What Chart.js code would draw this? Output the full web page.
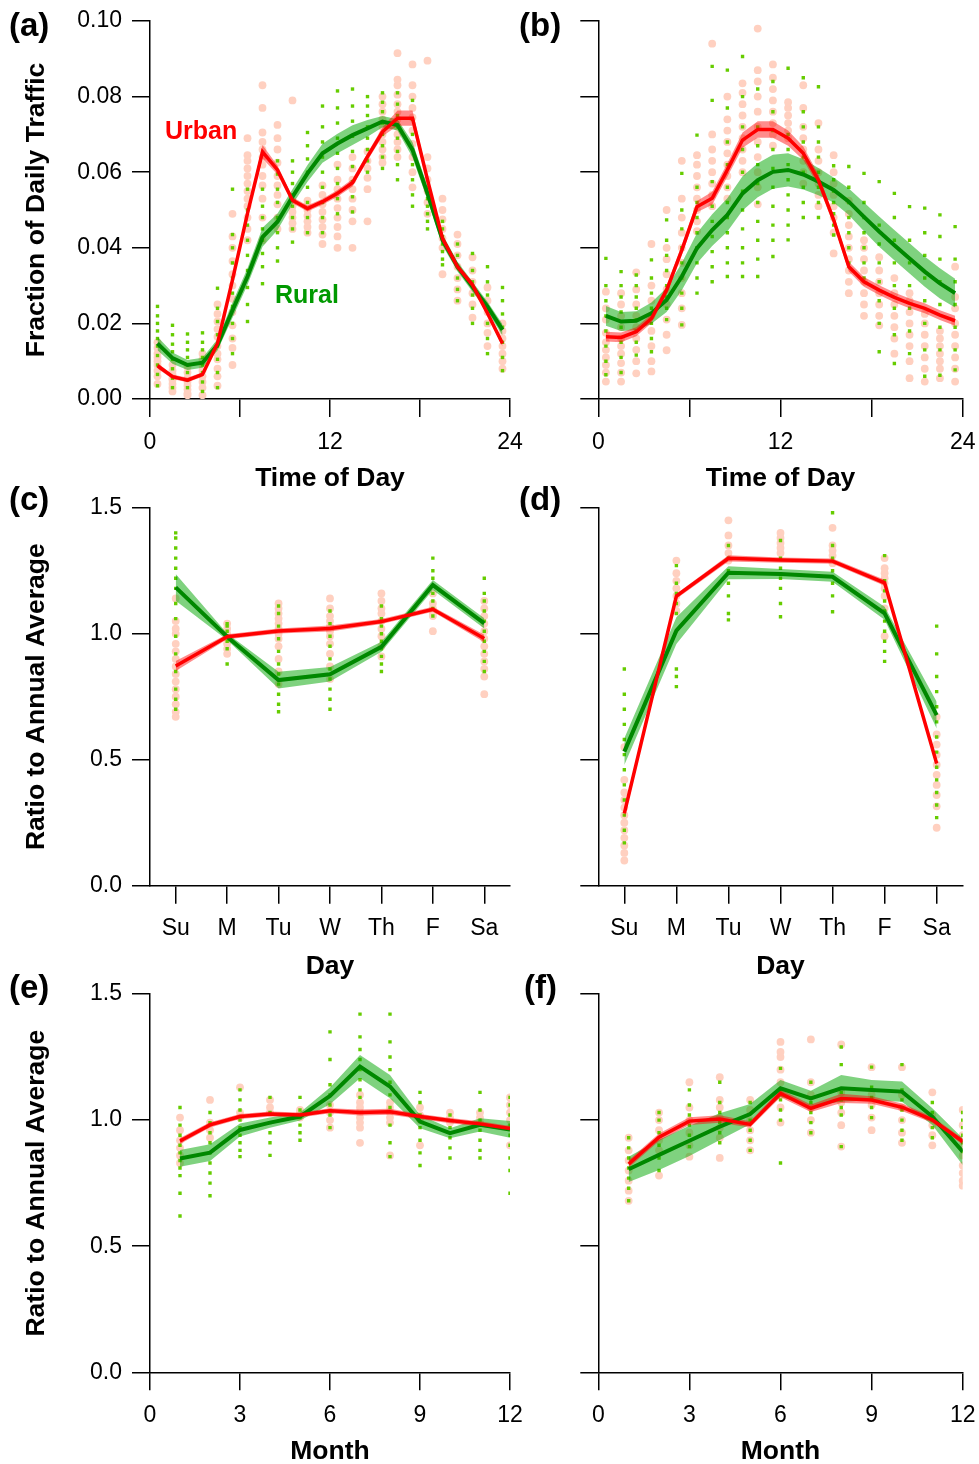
<!DOCTYPE html>
<html>
<head>
<meta charset="utf-8">
<script src="https://cdn.jsdelivr.net/npm/chart.js@4/dist/chart.umd.min.js"></script>
<style>
  body { margin: 0; background: #fff; width: 979px; height: 1464px; position: relative; overflow: hidden;
         font-family: "Liberation Sans", Arial, sans-serif; }
  canvas { position: absolute; }
  .tag { position: absolute; font-weight: bold; font-size: 33px; line-height: 33px; color: #000; }
</style>
</head>
<body>
<canvas id="cA" width="545" height="495" style="left:0;top:0"></canvas>
<canvas id="cB" width="465" height="495" style="left:530px;top:0"></canvas>
<canvas id="cC" width="545" height="505" style="left:0;top:480px"></canvas>
<canvas id="cD" width="465" height="505" style="left:530px;top:480px"></canvas>
<canvas id="cE" width="545" height="505" style="left:0;top:965px"></canvas>
<canvas id="cF" width="465" height="505" style="left:530px;top:965px"></canvas>
<div class="tag" style="left:9px;top:8px">(a)</div>
<div class="tag" style="left:519px;top:8px">(b)</div>
<div class="tag" style="left:9px;top:482px">(c)</div>
<div class="tag" style="left:519px;top:482px">(d)</div>
<div class="tag" style="left:9px;top:970px">(e)</div>
<div class="tag" style="left:524px;top:970px">(f)</div>
<script>
// x positions
const hours = [0.5, 1.5, 2.5, 3.5, 4.5, 5.5, 6.5, 7.5, 8.5, 9.5, 10.5, 11.5,
               12.5, 13.5, 14.5, 15.5, 16.5, 17.5, 18.5, 19.5, 20.5, 21.5, 22.5, 23.5];
const days = [0, 1, 2, 3, 4, 5, 6];
const dayNames = ["Su", "M", "Tu", "W", "Th", "F", "Sa"];
const months = [1, 2, 3, 4, 5, 6, 7, 8, 9, 10, 11, 12];

// (a) hourly profile
const urbanA = [0.0088, 0.0059, 0.0050, 0.0065, 0.0147, 0.0315, 0.0491, 0.0654, 0.0606, 0.0526, 0.0504, 0.0522,
                0.0544, 0.0572, 0.0641, 0.0707, 0.0743, 0.0743, 0.0580, 0.0425, 0.0350, 0.0302, 0.0227, 0.0147];
const urbanAErr = [0.0007, 0.0006, 0.0006, 0.0006, 0.0007, 0.0008, 0.0009, 0.0018, 0.0012, 0.0008, 0.0008, 0.0008,
                   0.0009, 0.0010, 0.0010, 0.0012, 0.0020, 0.0020, 0.0010, 0.0008, 0.0007, 0.0007, 0.0007, 0.0008];
const ruralA = [0.0147, 0.0108, 0.0090, 0.0096, 0.0143, 0.0235, 0.0324, 0.0428, 0.0469, 0.0535, 0.0597, 0.0650,
                0.0676, 0.0698, 0.0716, 0.0734, 0.0725, 0.0659, 0.0544, 0.0421, 0.0350, 0.0297, 0.0244, 0.0183];
const ruralAErr = [0.0018, 0.0015, 0.0013, 0.0013, 0.0015, 0.0020, 0.0022, 0.0025, 0.0022, 0.0020, 0.0022, 0.0025,
                   0.0026, 0.0026, 0.0022, 0.0015, 0.0015, 0.0020, 0.0018, 0.0015, 0.0013, 0.0013, 0.0013, 0.0015];
const urbanAPts = [
  [0.004, 0.006, 0.0075, 0.009, 0.010, 0.011, 0.012, 0.0135, 0.015],
  [0.002, 0.003, 0.004, 0.005, 0.0055, 0.0065, 0.0075, 0.009],
  [0.001, 0.0015, 0.0025, 0.0035, 0.0045, 0.0055, 0.007, 0.0085],
  [0.001, 0.003, 0.0045, 0.006, 0.0075, 0.009, 0.0105, 0.012],
  [0.0035, 0.006, 0.008, 0.0105, 0.012, 0.014, 0.0165, 0.0185, 0.0205, 0.0225, 0.025],
  [0.009, 0.0135, 0.016, 0.0195, 0.023, 0.0265, 0.030, 0.033, 0.0365, 0.040, 0.043, 0.049],
  [0.042, 0.045, 0.048, 0.051, 0.053, 0.055, 0.057, 0.059, 0.061, 0.063, 0.0645, 0.069],
  [0.042, 0.048, 0.053, 0.0565, 0.059, 0.062, 0.064, 0.066, 0.068, 0.0705, 0.077, 0.083],
  [0.045, 0.048, 0.0515, 0.054, 0.0565, 0.059, 0.0625, 0.066, 0.069, 0.0725],
  [0.045, 0.0465, 0.048, 0.0495, 0.051, 0.0525, 0.079],
  [0.044, 0.0455, 0.047, 0.0485, 0.050, 0.0515, 0.0525],
  [0.041, 0.0435, 0.0455, 0.0475, 0.0495, 0.0515, 0.054, 0.0565],
  [0.040, 0.043, 0.0455, 0.048, 0.0505, 0.053, 0.0555, 0.058, 0.062],
  [0.040, 0.047, 0.050, 0.053, 0.0555, 0.058, 0.061, 0.064],
  [0.047, 0.0555, 0.0585, 0.061, 0.063, 0.0655],
  [0.0625, 0.064, 0.066, 0.068, 0.070, 0.072, 0.074, 0.076, 0.078, 0.080],
  [0.064, 0.066, 0.068, 0.070, 0.072, 0.074, 0.076, 0.078, 0.0805, 0.083, 0.0845, 0.0915],
  [0.056, 0.060, 0.064, 0.0675, 0.071, 0.0745, 0.077, 0.080, 0.083, 0.0885],
  [0.049, 0.052, 0.055, 0.058, 0.061, 0.064, 0.0895],
  [0.033, 0.040, 0.0425, 0.045, 0.0475, 0.050, 0.053],
  [0.026, 0.029, 0.032, 0.035, 0.038, 0.041, 0.0435],
  [0.0215, 0.025, 0.028, 0.031, 0.034, 0.0375],
  [0.014, 0.0175, 0.020, 0.023, 0.026, 0.0295],
  [0.008, 0.010, 0.012, 0.014, 0.016, 0.018, 0.020]
];
const ruralAPts = [
  [0.0035, 0.0065, 0.009, 0.0115, 0.014, 0.016, 0.018, 0.020, 0.022, 0.0245],
  [0.003, 0.0055, 0.008, 0.0105, 0.0125, 0.0145, 0.017, 0.0195],
  [0.003, 0.005, 0.007, 0.009, 0.011, 0.013, 0.015, 0.0172],
  [0.002, 0.0045, 0.007, 0.009, 0.011, 0.013, 0.015, 0.0175],
  [0.003, 0.007, 0.0105, 0.014, 0.017, 0.0205, 0.024, 0.0293],
  [0.012, 0.016, 0.020, 0.0245, 0.028, 0.032, 0.036, 0.040, 0.0435, 0.0555],
  [0.0205, 0.025, 0.0295, 0.034, 0.038, 0.042, 0.046, 0.050, 0.0555],
  [0.0305, 0.035, 0.0385, 0.042, 0.045, 0.048, 0.051, 0.0555],
  [0.0365, 0.040, 0.044, 0.048, 0.052, 0.0555, 0.0595, 0.063],
  [0.0415, 0.045, 0.048, 0.051, 0.054, 0.057, 0.060, 0.063],
  [0.044, 0.048, 0.052, 0.056, 0.060, 0.0635, 0.067, 0.0705],
  [0.044, 0.048, 0.052, 0.056, 0.060, 0.064, 0.068, 0.072, 0.0775],
  [0.049, 0.053, 0.057, 0.061, 0.065, 0.069, 0.073, 0.077, 0.0815],
  [0.0495, 0.0535, 0.0575, 0.0615, 0.0655, 0.0695, 0.0735, 0.0775, 0.082],
  [0.060, 0.063, 0.066, 0.069, 0.072, 0.075, 0.0775, 0.080],
  [0.061, 0.064, 0.067, 0.070, 0.073, 0.076, 0.0785, 0.081],
  [0.058, 0.062, 0.0655, 0.069, 0.072, 0.075, 0.078, 0.081],
  [0.051, 0.054, 0.058, 0.062, 0.066, 0.070, 0.074, 0.079],
  [0.045, 0.047, 0.049, 0.051, 0.053, 0.056],
  [0.0355, 0.037, 0.039, 0.041, 0.043, 0.045, 0.047],
  [0.026, 0.029, 0.032, 0.035, 0.038, 0.041],
  [0.020, 0.024, 0.0275, 0.031, 0.034, 0.0385],
  [0.012, 0.016, 0.020, 0.024, 0.0275, 0.031, 0.035],
  [0.0075, 0.011, 0.015, 0.019, 0.0225, 0.026, 0.0295]
];

// (b) hourly profile
const urbanB = [0.0165, 0.0163, 0.0178, 0.0213, 0.0288, 0.0394, 0.0509, 0.0531, 0.0606, 0.0685, 0.0713, 0.0713,
                0.0690, 0.0650, 0.0579, 0.0474, 0.0350, 0.0310, 0.0288, 0.0269, 0.0253, 0.0240, 0.0222, 0.0207];
const urbanBErr = [0.0013, 0.0013, 0.0012, 0.0012, 0.0012, 0.0013, 0.0015, 0.0017, 0.0018, 0.0020, 0.0022, 0.0022,
                   0.0020, 0.0018, 0.0015, 0.0013, 0.0013, 0.0013, 0.0013, 0.0013, 0.0013, 0.0013, 0.0013, 0.0013];
const ruralB = [0.0220, 0.0205, 0.0207, 0.0227, 0.0262, 0.0324, 0.0399, 0.0447, 0.0487, 0.0544, 0.0579, 0.0601,
                0.0606, 0.0594, 0.0575, 0.0553, 0.0522, 0.0482, 0.0443, 0.0407, 0.0372, 0.0337, 0.0306, 0.0280];
const ruralBErr = [0.0026, 0.0025, 0.0025, 0.0028, 0.0032, 0.0036, 0.0040, 0.0042, 0.0044, 0.0045, 0.0045, 0.0045,
                   0.0044, 0.0040, 0.0036, 0.0033, 0.0035, 0.0038, 0.0040, 0.0040, 0.0040, 0.0040, 0.0040, 0.0038];
const urbanBPts = [
  [0.0046, 0.007, 0.009, 0.011, 0.013, 0.015, 0.0175, 0.021, 0.024, 0.0284],
  [0.0046, 0.007, 0.0095, 0.012, 0.014, 0.016, 0.019, 0.022, 0.025, 0.028],
  [0.0068, 0.010, 0.013, 0.016, 0.019, 0.022, 0.025, 0.029, 0.0335],
  [0.0073, 0.010, 0.014, 0.018, 0.022, 0.026, 0.030, 0.041],
  [0.0129, 0.017, 0.021, 0.025, 0.029, 0.033, 0.037, 0.040, 0.050],
  [0.0196, 0.024, 0.028, 0.032, 0.036, 0.040, 0.044, 0.048, 0.053, 0.063],
  [0.0444, 0.047, 0.050, 0.053, 0.056, 0.059, 0.062, 0.0645],
  [0.051, 0.054, 0.057, 0.060, 0.063, 0.066, 0.070, 0.094],
  [0.053, 0.056, 0.059, 0.062, 0.065, 0.068, 0.071, 0.074, 0.080],
  [0.060, 0.063, 0.066, 0.069, 0.072, 0.075, 0.078, 0.081, 0.0835],
  [0.0515, 0.056, 0.060, 0.064, 0.068, 0.072, 0.076, 0.080, 0.084, 0.087, 0.098],
  [0.067, 0.070, 0.073, 0.076, 0.079, 0.082, 0.085, 0.0885],
  [0.069, 0.071, 0.073, 0.075, 0.077, 0.0785],
  [0.057, 0.060, 0.063, 0.066, 0.069, 0.072, 0.077, 0.083],
  [0.051, 0.054, 0.057, 0.060, 0.063, 0.066, 0.073],
  [0.0385, 0.044, 0.048, 0.051, 0.054, 0.057, 0.060, 0.0645],
  [0.028, 0.031, 0.034, 0.037, 0.040, 0.043, 0.046, 0.049, 0.0525],
  [0.022, 0.025, 0.028, 0.031, 0.034, 0.037, 0.040, 0.042],
  [0.0195, 0.022, 0.025, 0.028, 0.031, 0.034, 0.0375],
  [0.012, 0.016, 0.019, 0.022, 0.025, 0.028, 0.032],
  [0.0055, 0.010, 0.014, 0.017, 0.020, 0.023, 0.026, 0.028],
  [0.0046, 0.008, 0.011, 0.014, 0.017, 0.020, 0.0225],
  [0.0055, 0.008, 0.010, 0.012, 0.014, 0.016, 0.018],
  [0.0046, 0.008, 0.011, 0.014, 0.017, 0.020, 0.024, 0.027, 0.035]
];
const ruralBPts = [
  [0.0064, 0.010, 0.014, 0.018, 0.022, 0.026, 0.030, 0.0372],
  [0.007, 0.011, 0.015, 0.019, 0.023, 0.027, 0.030, 0.0337],
  [0.0116, 0.015, 0.018, 0.021, 0.024, 0.027, 0.030, 0.0328],
  [0.0125, 0.016, 0.020, 0.024, 0.028, 0.032, 0.0368],
  [0.021, 0.024, 0.027, 0.030, 0.034, 0.038, 0.042, 0.0474],
  [0.0196, 0.024, 0.028, 0.032, 0.036, 0.040, 0.045, 0.050, 0.0597],
  [0.028, 0.032, 0.036, 0.040, 0.044, 0.048, 0.052, 0.056, 0.0698],
  [0.031, 0.035, 0.039, 0.043, 0.047, 0.051, 0.0575, 0.079, 0.088],
  [0.0324, 0.036, 0.040, 0.044, 0.048, 0.052, 0.056, 0.062, 0.068, 0.077, 0.087],
  [0.0324, 0.036, 0.040, 0.045, 0.050, 0.055, 0.060, 0.066, 0.072, 0.080, 0.0906],
  [0.0324, 0.037, 0.042, 0.047, 0.052, 0.057, 0.062, 0.067, 0.072, 0.082],
  [0.0377, 0.042, 0.046, 0.051, 0.056, 0.061, 0.066, 0.071, 0.076, 0.084],
  [0.0421, 0.046, 0.050, 0.054, 0.058, 0.062, 0.066, 0.070, 0.0875],
  [0.048, 0.052, 0.056, 0.060, 0.064, 0.068, 0.072, 0.076, 0.085],
  [0.048, 0.052, 0.056, 0.060, 0.064, 0.068, 0.072, 0.0826],
  [0.0434, 0.046, 0.049, 0.052, 0.055, 0.058, 0.0617],
  [0.036, 0.040, 0.044, 0.048, 0.052, 0.056, 0.0615],
  [0.032, 0.036, 0.040, 0.044, 0.048, 0.052, 0.0597],
  [0.0125, 0.020, 0.026, 0.031, 0.036, 0.041, 0.046, 0.0575],
  [0.0094, 0.017, 0.024, 0.030, 0.036, 0.042, 0.048, 0.0544],
  [0.012, 0.018, 0.024, 0.030, 0.036, 0.042, 0.0509],
  [0.006, 0.013, 0.020, 0.026, 0.032, 0.038, 0.044, 0.0505],
  [0.0063, 0.013, 0.019, 0.025, 0.031, 0.037, 0.043, 0.0487],
  [0.0077, 0.013, 0.019, 0.025, 0.031, 0.037, 0.0456]
];

// (c) day of week
const urbanC = [0.872, 0.988, 1.011, 1.021, 1.048, 1.097, 0.981];
const urbanCErr = [0.02, 0.01, 0.01, 0.012, 0.01, 0.01, 0.015];
const ruralC = [1.184, 0.988, 0.816, 0.839, 0.948, 1.193, 1.041];
const ruralCErr = [0.053, 0.013, 0.033, 0.029, 0.02, 0.02, 0.02];
const urbanCPts = [
  [0.67, 0.69, 0.72, 0.75, 0.78, 0.81, 0.84, 0.87, 0.90, 0.93, 0.96, 1.00, 1.02, 1.05, 1.14],
  [0.92, 0.94, 0.96, 0.98, 1.00, 1.02, 1.04],
  [0.80, 0.85, 0.90, 0.95, 0.98, 1.00, 1.02, 1.04, 1.06, 1.08, 1.10, 1.12],
  [0.82, 0.87, 0.92, 0.96, 0.99, 1.01, 1.03, 1.05, 1.07, 1.10, 1.14],
  [0.91, 0.95, 0.99, 1.02, 1.05, 1.08, 1.10, 1.13, 1.16],
  [1.01, 1.07, 1.08, 1.10, 1.12, 1.16],
  [0.76, 0.83, 0.86, 0.89, 0.92, 0.95, 0.98, 1.01, 1.04, 1.07, 1.10, 1.13]
];
const ruralCPts = [
  [0.70, 0.74, 0.78, 0.85, 0.92, 0.99, 1.06, 1.12, 1.18, 1.22, 1.26, 1.30, 1.34, 1.38, 1.40],
  [0.88, 0.94, 0.97, 0.99, 1.01, 1.03, 1.04],
  [0.69, 0.72, 0.76, 0.80, 0.84, 0.88, 0.93, 0.98, 1.03, 1.08, 1.11],
  [0.70, 0.74, 0.78, 0.82, 0.86, 0.90, 0.95, 0.99, 1.04, 1.09],
  [0.85, 0.88, 0.91, 0.94, 0.97, 1.00, 1.03, 1.06, 1.11],
  [1.07, 1.10, 1.13, 1.16, 1.19, 1.22, 1.25, 1.30],
  [0.85, 0.89, 0.93, 0.97, 1.01, 1.05, 1.09, 1.13, 1.16, 1.22]
];

// (d) day of week
const urbanD = [0.287, 1.149, 1.299, 1.292, 1.288, 1.202, 0.485];
const urbanDErr = [0.02, 0.01, 0.012, 0.01, 0.01, 0.012, 0.015];
const ruralD = [0.532, 1.012, 1.242, 1.237, 1.226, 1.081, 0.677];
const ruralDErr = [0.053, 0.053, 0.026, 0.02, 0.02, 0.026, 0.053];
const urbanDPts = [
  [0.10, 0.13, 0.16, 0.19, 0.22, 0.25, 0.28, 0.31, 0.34, 0.37, 0.42, 0.55],
  [1.09, 1.12, 1.15, 1.18, 1.21, 1.24, 1.29],
  [1.29, 1.32, 1.35, 1.39, 1.45],
  [1.32, 1.34, 1.36, 1.38, 1.40],
  [1.28, 1.31, 1.33, 1.35, 1.42],
  [0.99, 1.10, 1.15, 1.18, 1.20, 1.22, 1.24, 1.26, 1.30],
  [0.23, 0.315, 0.36, 0.40, 0.44, 0.48, 0.52, 0.56, 0.60, 0.67]
];
const ruralDPts = [
  [0.17, 0.22, 0.28, 0.34, 0.40, 0.46, 0.52, 0.58, 0.64, 0.70, 0.76, 0.86],
  [0.79, 0.83, 0.86, 1.08, 1.12, 1.16, 1.20, 1.27],
  [1.055, 1.08, 1.15, 1.20, 1.25, 1.30, 1.35],
  [1.067, 1.12, 1.18, 1.22, 1.26, 1.30, 1.37],
  [1.087, 1.15, 1.20, 1.25, 1.30, 1.35, 1.48],
  [0.89, 0.93, 0.97, 1.01, 1.05, 1.09, 1.13, 1.17, 1.21, 1.31],
  [0.27, 0.32, 0.37, 0.42, 0.47, 0.53, 0.59, 0.65, 0.71, 0.77, 0.83, 0.92, 1.03]
];

// (e) month of year
const urbanE = [0.917, 0.981, 1.014, 1.024, 1.020, 1.037, 1.030, 1.033, 1.014, 0.998, 0.985, 0.967];
const urbanEErr = [0.012, 0.01, 0.01, 0.01, 0.01, 0.01, 0.012, 0.012, 0.01, 0.01, 0.01, 0.01];
const ruralE = [0.848, 0.871, 0.961, 0.990, 1.014, 1.096, 1.212, 1.133, 0.994, 0.948, 0.981, 0.963];
const ruralEErr = [0.033, 0.033, 0.026, 0.02, 0.016, 0.033, 0.046, 0.046, 0.026, 0.02, 0.026, 0.033];
const urbanEPts = [
  [0.83, 0.86, 0.89, 0.92, 0.96, 1.01],
  [0.93, 0.96, 0.99, 1.08],
  [1.01, 1.03, 1.13],
  [1.03, 1.05, 1.08],
  [1.01, 1.03, 1.04],
  [0.97, 1.00, 1.03, 1.06],
  [0.91, 0.97, 0.99, 1.01, 1.03, 1.05, 1.07, 1.10],
  [0.86, 0.99, 1.01, 1.03, 1.05, 1.07],
  [0.90, 1.00, 1.02, 1.05],
  [0.99, 1.01, 1.03],
  [0.99, 1.01, 1.03],
  [0.90, 0.97, 1.00, 1.03, 1.06, 1.09]
];
const ruralEPts = [
  [0.62, 0.71, 0.78, 0.81, 0.84, 0.87, 0.90, 0.94, 0.98, 1.05],
  [0.70, 0.75, 0.79, 0.83, 0.87, 0.91, 0.95, 0.99, 1.03],
  [0.855, 0.88, 0.91, 0.94, 0.97, 1.00, 1.04, 1.08, 1.12],
  [0.86, 0.91, 0.95, 0.99, 1.03, 1.09],
  [0.92, 0.95, 0.98, 1.01, 1.04, 1.09],
  [0.97, 1.02, 1.06, 1.10, 1.14, 1.24, 1.35],
  [1.09, 1.12, 1.16, 1.20, 1.24, 1.28, 1.33, 1.42],
  [0.855, 0.91, 0.98, 1.05, 1.10, 1.15, 1.20, 1.25, 1.31, 1.42],
  [0.82, 0.87, 0.92, 0.97, 1.02, 1.07, 1.11],
  [0.85, 0.89, 0.93, 0.97, 1.02],
  [0.85, 0.88, 0.92, 0.96, 1.00, 1.04, 1.11],
  [0.71, 0.80, 0.85, 0.90, 0.94, 0.98, 1.02, 1.06, 1.09]
];

// (f) month of year
const urbanF = [0.826, 0.932, 0.996, 1.004, 0.983, 1.106, 1.047, 1.086, 1.080, 1.051, 1.001, 0.915];
const urbanFErr = [0.015, 0.015, 0.015, 0.015, 0.012, 0.015, 0.015, 0.018, 0.015, 0.015, 0.012, 0.012];
const ruralF = [0.805, 0.862, 0.918, 0.974, 1.024, 1.126, 1.086, 1.126, 1.119, 1.113, 1.014, 0.875];
const ruralFErr = [0.05, 0.06, 0.06, 0.053, 0.04, 0.033, 0.03, 0.053, 0.04, 0.04, 0.033, 0.053];
const urbanFPts = [
  [0.68, 0.72, 0.76, 0.80, 0.84, 0.88, 0.93],
  [0.78, 0.88, 0.92, 0.96, 1.00, 1.03],
  [0.855, 0.90, 0.95, 1.00, 1.05, 1.15],
  [0.85, 0.93, 0.97, 1.01, 1.05, 1.08, 1.17],
  [0.88, 0.92, 0.96, 1.00, 1.04, 1.08],
  [0.99, 1.05, 1.10, 1.15, 1.20, 1.25, 1.27, 1.31],
  [0.95, 1.00, 1.05, 1.10, 1.15, 1.32],
  [0.895, 0.98, 1.03, 1.07, 1.11, 1.30],
  [0.96, 1.01, 1.06, 1.10, 1.21],
  [0.91, 0.95, 1.00, 1.05, 1.10, 1.21],
  [0.90, 0.94, 0.98, 1.02, 1.11],
  [0.74, 0.76, 0.79, 0.82, 0.86, 0.90, 0.94, 0.98, 1.04]
];
const ruralFPts = [
  [0.68, 0.73, 0.77, 0.81, 0.85, 0.89, 0.93],
  [0.80, 0.85, 0.90, 0.95, 1.00, 1.03],
  [0.895, 0.94, 0.98, 1.02, 1.06, 1.12],
  [0.91, 0.95, 0.99, 1.03, 1.07, 1.15],
  [0.88, 0.92, 0.96, 1.00, 1.07],
  [0.83, 1.00, 1.04, 1.08, 1.12, 1.205],
  [0.95, 0.99, 1.03, 1.07, 1.15],
  [0.895, 1.02, 1.05, 1.08, 1.11, 1.22, 1.29],
  [1.01, 1.05, 1.09, 1.13, 1.21],
  [0.92, 0.96, 1.00, 1.04, 1.08, 1.12, 1.22],
  [0.93, 0.97, 1.00, 1.03, 1.07],
  [0.875, 0.91, 0.94, 0.97, 1.00, 1.03]
];

const FONT = "'Liberation Sans', Arial, sans-serif";

function scatterPts(xs, cols) {
  const out = [];
  cols.forEach((col, i) => col.forEach(v => out.push({ x: xs[i], y: v })));
  return out;
}
function series(xs, ys, err, sign) {
  return ys.map((v, i) => ({ x: xs[i], y: v + sign * (err ? err[i] : 0) }));
}

// "Urban" / "Rural" tags in panel (a), placed in data coordinates
const tagPlugin = {
  id: "tags",
  afterDatasetsDraw(chart, args, opts) {
    if (!opts.items) return;
    const ctx = chart.ctx;
    ctx.save();
    ctx.font = "bold 25px " + FONT;
    ctx.textBaseline = "middle";
    ctx.textAlign = "left";
    opts.items.forEach(t => {
      ctx.fillStyle = t.color;
      ctx.fillText(t.text, chart.scales.x.getPixelForValue(t.x), chart.scales.y.getPixelForValue(t.y));
    });
    ctx.restore();
  }
};

function makePanel(id, p) {
  const datasets = [
    { data: series(p.xs, p.red, null, 0), borderColor: "#ff0000", borderWidth: 3.5, pointRadius: 0, order: 1 },
    { data: series(p.xs, p.green, null, 0), borderColor: "#008800", borderWidth: 4, pointRadius: 0, order: 2 },
    { data: series(p.xs, p.red, p.redErr, 1), fill: "+1", backgroundColor: "rgba(255,0,0,0.45)",
      borderColor: "transparent", borderWidth: 0, pointRadius: 0, order: 3 },
    { data: series(p.xs, p.red, p.redErr, -1), fill: false, borderColor: "transparent", borderWidth: 0, pointRadius: 0, order: 3 },
    { data: series(p.xs, p.green, p.greenErr, 1), fill: "+1", backgroundColor: "rgba(0,165,0,0.5)",
      borderColor: "transparent", borderWidth: 0, pointRadius: 0, order: 4 },
    { data: series(p.xs, p.green, p.greenErr, -1), fill: false, borderColor: "transparent", borderWidth: 0, pointRadius: 0, order: 4 },
    { data: scatterPts(p.xs, p.greenPts), showLine: false, pointStyle: "rect", pointRadius: 2.4,
      pointBackgroundColor: "#66cc00", pointBorderWidth: 0, order: 5 },
    { data: scatterPts(p.xs, p.redPts), showLine: false, pointStyle: "circle", pointRadius: 3.9,
      pointBackgroundColor: "#ffd0c0", pointBorderWidth: 0, order: 6 }
  ];

  const axisGrid = { display: true, drawOnChartArea: false, drawTicks: true, tickLength: 18, color: "#000", lineWidth: 1.5 };
  const axisBorder = { display: true, color: "#000", width: 1.5 };
  const tickFont = { family: FONT, size: 23, lineHeight: 0.9 };
  const titleFont = { family: FONT, size: 26.5, weight: "bold", lineHeight: 1.2 };

  new Chart(document.getElementById(id), {
    type: "line",
    data: { datasets },
    options: {
      responsive: false,
      animation: false,
      events: [],
      elements: { line: { tension: 0 } },
      layout: { padding: p.pad },
      plugins: { legend: { display: false }, tooltip: { enabled: false }, tags: { items: p.tags } },
      scales: {
        x: {
          type: "linear", min: p.xMin, max: p.xMax,
          grid: axisGrid, border: axisBorder,
          ticks: { autoSkip: false, maxRotation: 0, padding: 15, color: "#000", font: tickFont, callback: p.xLabel },
          afterBuildTicks: s => { s.ticks = p.xTicks.map(v => ({ value: v })); },
          title: { display: true, text: p.xTitle, color: "#000", font: titleFont, padding: { top: 0, bottom: p.xTitlePad } },
          afterFit: s => { s.height = p.xHeight; }
        },
        y: {
          type: "linear", min: p.yMin, max: p.yMax,
          grid: axisGrid, border: axisBorder,
          ticks: { autoSkip: false, padding: 10, color: "#000", font: tickFont,
                   callback: v => p.yLabels ? v.toFixed(p.yDigits) : "" },
          afterBuildTicks: s => { s.ticks = p.yTicks.map(v => ({ value: v })); },
          title: { display: !!p.yTitle, text: p.yTitle || "", color: "#000", font: titleFont, padding: { top: 20.5, bottom: 0 } },
          afterFit: s => { s.width = p.yWidth; }
        }
      }
    },
    plugins: [tagPlugin]
  });
}

const hourAxis = { xs: hours, xMin: 0, xMax: 24, xTicks: [0, 6, 12, 18, 24],
  xLabel: v => (v % 12 === 0 ? String(v) : ""), xTitle: "Time of Day", xHeight: 96, xTitlePad: 0,
  yMin: 0, yMax: 0.1, yTicks: [0, 0.02, 0.04, 0.06, 0.08, 0.1], yDigits: 2 };
const dayAxis = { xs: days, xMin: -0.5, xMax: 6.5, xTicks: days,
  xLabel: v => dayNames[v], xTitle: "Day", xHeight: 99.3, xTitlePad: 2.6,
  yMin: 0, yMax: 1.5, yTicks: [0, 0.5, 1, 1.5], yDigits: 1 };
const monthAxis = { xs: months, xMin: 0, xMax: 12, xTicks: [0, 3, 6, 9, 12],
  xLabel: v => String(v), xTitle: "Month", xHeight: 97.7, xTitlePad: 2.6,
  yMin: 0, yMax: 1.5, yTicks: [0, 0.5, 1, 1.5], yDigits: 1 };

const leftPad = top => ({ top: top, right: 35, left: 0, bottom: 0 });
const rightPad = top => ({ top: top, right: 32.3, left: 0, bottom: 0 });

makePanel("cA", Object.assign({}, hourAxis, {
  red: urbanA, redErr: urbanAErr, green: ruralA, greenErr: ruralAErr, redPts: urbanAPts, greenPts: ruralAPts,
  pad: leftPad(21), yWidth: 150, yLabels: true, yTitle: "Fraction of Daily Traffic",
  tags: [{ text: "Urban", x: 1.0, y: 0.0707, color: "#ff0000" }, { text: "Rural", x: 8.33, y: 0.0273, color: "#009900" }]
}));
makePanel("cB", Object.assign({}, hourAxis, {
  red: urbanB, redErr: urbanBErr, green: ruralB, greenErr: ruralBErr, redPts: urbanBPts, greenPts: ruralBPts,
  pad: rightPad(21), yWidth: 68.3, yLabels: false
}));
makePanel("cC", Object.assign({}, dayAxis, {
  red: urbanC, redErr: urbanCErr, green: ruralC, greenErr: ruralCErr, redPts: urbanCPts, greenPts: ruralCPts,
  pad: leftPad(27.7), yWidth: 150, yLabels: true, yTitle: "Ratio to Annual Average"
}));
makePanel("cD", Object.assign({}, dayAxis, {
  red: urbanD, redErr: urbanDErr, green: ruralD, greenErr: ruralDErr, redPts: urbanDPts, greenPts: ruralDPts,
  pad: rightPad(27.7), yWidth: 68.3, yLabels: false
}));
makePanel("cE", Object.assign({}, monthAxis, {
  red: urbanE, redErr: urbanEErr, green: ruralE, greenErr: ruralEErr, redPts: urbanEPts, greenPts: ruralEPts,
  pad: leftPad(29), yWidth: 150, yLabels: true, yTitle: "Ratio to Annual Average"
}));
makePanel("cF", Object.assign({}, monthAxis, {
  red: urbanF, redErr: urbanFErr, green: ruralF, greenErr: ruralFErr, redPts: urbanFPts, greenPts: ruralFPts,
  pad: rightPad(29), yWidth: 68.3, yLabels: false
}));
</script>
</body>
</html>
